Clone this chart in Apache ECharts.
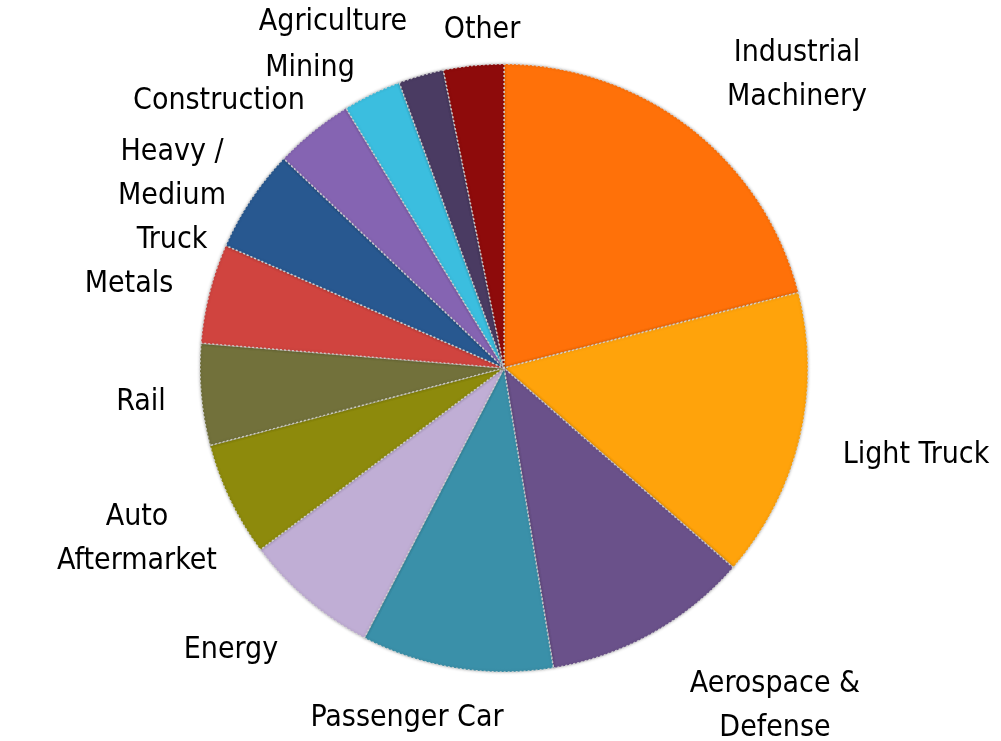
<!DOCTYPE html>
<html>
<head>
<meta charset="utf-8">
<script src="https://cdn.jsdelivr.net/npm/echarts@6/dist/echarts.min.js"></script>
<style>
  html, body { margin: 0; padding: 0; background: #fff; }
  #chart { width: 1001px; height: 741px; }
</style>
</head>
<body>
<div id="chart"></div>
<script>
// Market segments, clockwise from 12 o'clock
var segments = [
  'Industrial\nMachinery', 'Light Truck', 'Aerospace &\nDefense', 'Passenger Car',
  'Energy', 'Auto\nAftermarket', 'Rail', 'Metals', 'Heavy /\nMedium\nTruck',
  'Construction', 'Mining', 'Agriculture', 'Other'
];
// Share of sales, percent
var shares = [21.0, 15.4, 11.0, 10.2, 7.2, 6.1, 5.4, 5.3, 5.5, 4.2, 3.1, 2.4, 3.2];
var colors = [
  '#FF7109', '#FFA30B', '#6A518A', '#3A90A9', '#C0AED5', '#8D8A0C', '#72713B',
  '#D0443F', '#285890', '#8564B2', '#3BBEDF', '#4A3B62', '#8E0B0B'
];
// Label anchor points (text block centres)
var labelSpots = [
  [797, 75], [916, 455], [775, 706], [407, 718], [231, 650], [137, 539],
  [141, 402], [129, 284], [172, 196], [219, 101], [310, 68], [333, 22], [482, 30]
];

var chart = echarts.init(document.getElementById('chart'));

chart.setOption({
  animation: false,
  backgroundColor: '#ffffff',
  series: [{
    type: 'pie',
    center: [504, 368],
    radius: 304,
    startAngle: 90,
    clockwise: true,
    data: segments.map(function (name, i) {
      return { name: name, value: shares[i], itemStyle: { color: colors[i] } };
    }),
    itemStyle: {
      borderColor: 'rgba(215,215,215,0.85)',
      borderWidth: 1.5,
      borderType: [2, 2],
      shadowBlur: 3,
      shadowColor: 'rgba(0,0,0,0.25)'
    },
    label: {
      show: true,
      position: 'outside',
      formatter: '{b}',
      color: '#000',
      fontSize: 30,
      lineHeight: 44,
      align: 'center',
      overflow: 'none',
      width: 300,
      fontFamily: 'Liberation Sans Narrow, DejaVu Sans Condensed, sans-serif'
    },
    labelLine: { show: false },
    labelLayout: function (p) {
      var s = labelSpots[p.dataIndex];
      return { x: s[0], y: s[1], align: 'center', verticalAlign: 'middle', hideOverlap: false };
    },
    emphasis: { disabled: true }
  }]
});
</script>
</body>
</html>
